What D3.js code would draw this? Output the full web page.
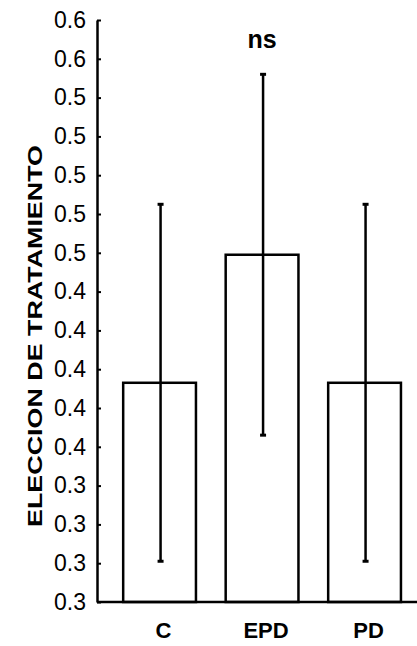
<!DOCTYPE html>
<html>
<head>
<meta charset="utf-8">
<script src="https://d3js.org/d3.v7.min.js"></script>
<style>
    body { margin: 0; background: #fff; }
    svg { display: block; font-family: "Liberation Sans", Arial, sans-serif; }
</style>
</head>
<body>
<script>
"use strict";

// Data
const groups = ["C", "EPD", "PD"]
const means = [0.393, 0.459, 0.393]
const errors = [0.092, 0.093, 0.092]
const yTicks = [0.28, 0.30, 0.32, 0.34, 0.36, 0.38, 0.40, 0.42, 0.44, 0.46, 0.48, 0.50, 0.52, 0.54, 0.56, 0.58]
const yTitle = "ELECCION DE TRATAMIENTO"
const note = "ns"

;(function () {

    // Dimensions for svg
    const measurements = {
        width: 417,
        height: 646,
        left: 97,
        top: 20,
        bottom: 602,
        right: 417
    }

    let svgContainer = d3.select("body").append("svg")
        .attr("width", measurements.width)
        .attr("height", measurements.height)

    let scaleX = d3.scaleBand()
        .domain(groups)
        .range([measurements.left, measurements.right])
        .paddingInner(0.29)
        .paddingOuter(0.206)
        .align(0.62)

    let scaleY = d3.scaleLinear()
        .domain([yTicks[0], yTicks[yTicks.length - 1]])
        .range([measurements.bottom, measurements.top])

    let rows = groups.map((g, i) => ({ group: g, mean: means[i], err: errors[i] }))

    // Bars
    svgContainer.selectAll(".bar")
        .data(rows)
        .enter()
        .append("rect")
        .attr("class", "bar")
        .attr("x", d => scaleX(d.group))
        .attr("y", d => scaleY(d.mean))
        .attr("width", scaleX.bandwidth())
        .attr("height", d => scaleY(yTicks[0]) - scaleY(d.mean))
        .attr("fill", "#fff")
        .attr("stroke", "#000")
        .attr("stroke-width", 2.5)

    // Error bars
    const cx = d => scaleX(d.group) + scaleX.bandwidth() / 2 + 1
    svgContainer.selectAll(".err")
        .data(rows)
        .enter()
        .append("line")
        .attr("class", "err")
        .attr("x1", cx)
        .attr("x2", cx)
        .attr("y1", d => scaleY(d.mean + d.err))
        .attr("y2", d => scaleY(d.mean - d.err))
        .attr("stroke", "#000")
        .attr("stroke-width", 2.5)

    ;["top", "bottom"].forEach(side => {
        svgContainer.selectAll(".cap-" + side)
            .data(rows)
            .enter()
            .append("line")
            .attr("x1", d => cx(d) - 3)
            .attr("x2", d => cx(d) + 3)
            .attr("y1", d => scaleY(side == "top" ? d.mean + d.err : d.mean - d.err))
            .attr("y2", d => scaleY(side == "top" ? d.mean + d.err : d.mean - d.err))
            .attr("stroke", "#000")
            .attr("stroke-width", 3)
    })

    // Axes
    let yAxis = d3.axisLeft(scaleY)
        .tickValues(yTicks)
        .tickFormat(d3.format(".1f"))
        .tickSizeInner(-4)
        .tickSizeOuter(0)
        .tickPadding(11)

    let gy = svgContainer.append("g")
        .attr("transform", "translate(" + measurements.left + ",0)")
        .call(yAxis)
    gy.select(".domain").attr("stroke-width", 2.5)
    gy.selectAll(".tick line").attr("stroke-width", 2)
    gy.selectAll(".tick text")
        .attr("fill", "#000")
        .style("font-family", "'Liberation Sans', Arial, sans-serif")
        .style("font-size", "23px")

    svgContainer.append("line")
        .attr("x1", measurements.left)
        .attr("x2", measurements.right)
        .attr("y1", scaleY(yTicks[0]))
        .attr("y2", scaleY(yTicks[0]))
        .attr("stroke", "#000")
        .attr("stroke-width", 2.5)

    // Category labels
    svgContainer.selectAll(".cat")
        .data(groups)
        .enter()
        .append("text")
        .attr("x", d => scaleX(d) + scaleX.bandwidth() / 2 + 4)
        .attr("y", 638)
        .attr("text-anchor", "middle")
        .style("font-size", "22px")
        .style("font-weight", "bold")
        .text(d => d)

    // Y title
    svgContainer.append("text")
        .attr("text-anchor", "middle")
        .attr("transform", "translate(42," + 336 + ")rotate(-90)")
        .attr("textLength", 382)
        .attr("lengthAdjust", "spacingAndGlyphs")
        .style("font-size", "20px")
        .style("font-weight", "bold")
        .text(yTitle)

    // Significance note
    svgContainer.append("text")
        .attr("text-anchor", "middle")
        .attr("x", scaleX("EPD") + scaleX.bandwidth() / 2)
        .attr("y", 48)
        .style("font-size", "25px")
        .style("font-weight", "bold")
        .text(note)

})()
</script>
</body>
</html>
